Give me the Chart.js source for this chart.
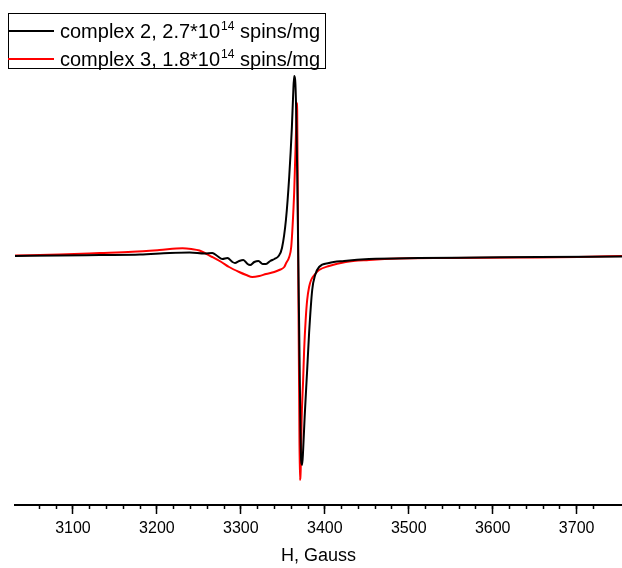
<!DOCTYPE html>
<html>
<head>
<meta charset="utf-8">
<script src="https://cdn.jsdelivr.net/npm/chart.js@4.4.1/dist/chart.umd.min.js"></script>
<style>
  body { margin: 0; background: #fff; }
  #wrap { position: relative; width: 622px; height: 568px; }
  #legend {
    position: absolute; left: 8px; top: 13px; width: 318px; height: 56px;
    box-sizing: border-box; border: 1px solid #000; background: #fff;
    font-family: "Liberation Sans", Arial, sans-serif; font-size: 20px; color: #000;
  }
  .row { position: absolute; left: 0; height: 28px; line-height: 28px; white-space: nowrap; }
  .swatch { position: absolute; left: -1px; top: 13px; width: 46px; height: 2px; }
  .txt { position: absolute; left: 51px; top: 0; }
  .txt sup { font-size: 12px; vertical-align: 8px; line-height: 0; margin-left: 1px; }
</style>
</head>
<body>
<div id="wrap">
  <canvas id="epr" width="622" height="568"></canvas>
  <div id="legend"></div>
</div>
<script>
// legend labels, ^ marks the exponent
const seriesLabels = [
  "complex 2, 2.7*10^14 spins/mg",
  "complex 3, 1.8*10^14 spins/mg",
];
const seriesColors = ["#000000", "#ff0000"];

// complex 2 (black), field in Gauss / derivative signal (a.u.)
const field2 = [3031, 3084, 3132, 3180, 3215, 3239, 3257, 3266, 3272, 3278,
  3284, 3290, 3293, 3298, 3303, 3308, 3311, 3316, 3321, 3326,
  3330, 3335, 3340, 3345, 3349, 3353.7, 3357.6, 3360.8, 3362.3, 3363.5,
  3364.7, 3365.9, 3367.1, 3368.3, 3369.5, 3370.7, 3371.8, 3373, 3374.2, 3376,
  3379, 3381.3, 3385, 3388.5, 3393.2, 3405, 3423, 3452.6, 3512, 3583,
  3654.5, 3754];
const signal2 = [0, 0.005, 0.01, 0.015, 0.03, 0.035, 0.025, 0.03, 0, -0.03,
  -0.02, -0.06, -0.07, -0.05, -0.04, -0.08, -0.09, -0.06, -0.05, -0.08,
  -0.08, -0.05, -0.03, 0, 0.08, 0.36, 0.79, 1.29, 1.61, 1.80,
  1.76, 1.46, 0.86, 0.06, -0.74, -1.54, -2.04, -2.09, -1.94, -1.61,
  -1.14, -0.77, -0.34, -0.19, -0.11, -0.07, -0.05, -0.03, -0.02, -0.015,
  -0.01, -0.005];

// complex 3 (red)
const field3 = [3031, 3084, 3132, 3171, 3203, 3230.5, 3241, 3250.7, 3266, 3276.8,
  3286, 3298, 3306.5, 3313.6, 3322, 3330, 3339.8, 3345.7, 3351.7, 3354,
  3357.6, 3360, 3361.7, 3363.5, 3364.7, 3365.9, 3366.5, 3367.1, 3367.9, 3368.6,
  3369.5, 3370.3, 3371.3, 3372.4, 3374.2, 3375.4, 3377.2, 3379, 3381.3, 3383.7,
  3388.5, 3393.2, 3405, 3425, 3452.6, 3488, 3547.6, 3630.7, 3702, 3754];
const signal3 = [0.005, 0.015, 0.03, 0.043, 0.06, 0.077, 0.07, 0.055, -0.01, -0.06,
  -0.11, -0.16, -0.19, -0.21, -0.20, -0.18, -0.16, -0.14, -0.11, -0.07,
  -0.01, 0.09, 0.31, 0.63, 0.96, 1.29, 1.53, 1.46, 0.56, -0.44,
  -1.44, -2.24, -2.14, -1.64, -1.24, -0.94, -0.64, -0.44, -0.31, -0.24,
  -0.18, -0.14, -0.10, -0.06, -0.04, -0.025, -0.02, -0.015, -0.01, 0];

const tickLabels = [3100, 3200, 3300, 3400, 3500, 3600, 3700];

function toPoints(xs, ys) {
  return xs.map((x, i) => ({ x: x, y: ys[i] }));
}

// html legend so the superscript stays real text
const legend = document.getElementById("legend");
seriesLabels.forEach((label, i) => {
  const row = document.createElement("div");
  row.className = "row";
  row.style.top = (3 + i * 28) + "px";
  row.innerHTML =
    `<div class="swatch" style="background:${seriesColors[i]}"></div>` +
    `<div class="txt">${label.replace(/\^(\d+)/, "<sup>$1</sup>")}</div>`;
  legend.appendChild(row);
});

const ctx = document.getElementById("epr").getContext("2d");
const chart = new Chart(ctx, {
  type: "line",
  data: {
    datasets: [
      {
        label: seriesLabels[0],
        data: toPoints(field2, signal2),
        borderColor: seriesColors[0],
        borderWidth: 2,
        pointRadius: 0,
        cubicInterpolationMode: "monotone",
      },
      {
        label: seriesLabels[1],
        data: toPoints(field3, signal3),
        borderColor: seriesColors[1],
        borderWidth: 2,
        pointRadius: 0,
        cubicInterpolationMode: "monotone",
      },
    ],
  },
  options: {
    responsive: false,
    devicePixelRatio: 1,
    animation: false,
    layout: { padding: { top: 10, left: 15, right: 0, bottom: 0 } },
    plugins: { legend: { display: false }, tooltip: { enabled: false } },
    scales: {
      // minor ticks only, takes no room
      xMinor: {
        type: "linear",
        position: "bottom",
        weight: 0,
        min: 3031,
        max: 3754,
        ticks: { display: false, stepSize: 20 },
        grid: { drawOnChartArea: false, tickLength: 4, tickWidth: 1.5, tickColor: "#000" },
        border: { display: false },
        afterBuildTicks: (scale) => {
          scale.ticks = scale.ticks.filter((t) => t.value % 20 === 0);
        },
        afterFit: (scale) => {
          scale.height = 0;
        },
      },
      x: {
        type: "linear",
        position: "bottom",
        weight: 1,
        min: 3031,
        max: 3754,
        afterBuildTicks: (scale) => {
          scale.ticks = tickLabels.map((v) => ({ value: v }));
        },
        afterFit: (scale) => {
          scale.height = 63;
        },
        ticks: {
          color: "#000",
          padding: 5,
          maxRotation: 0,
          font: { family: "'Liberation Sans', Arial, sans-serif", size: 16 },
          callback: (v) => String(v),
        },
        grid: { drawOnChartArea: false, tickLength: 9, tickWidth: 1.5, tickColor: "#000" },
        border: { display: true, color: "#000", width: 2 },
        title: {
          display: true,
          text: "H, Gauss",
          color: "#000",
          padding: { top: 0, bottom: 1 },
          font: { family: "'Liberation Sans', Arial, sans-serif", size: 18 },
        },
      },
      y: {
        display: false,
        min: -2.49,
        max: 2.46,
      },
    },
  },
});
</script>
</body>
</html>
